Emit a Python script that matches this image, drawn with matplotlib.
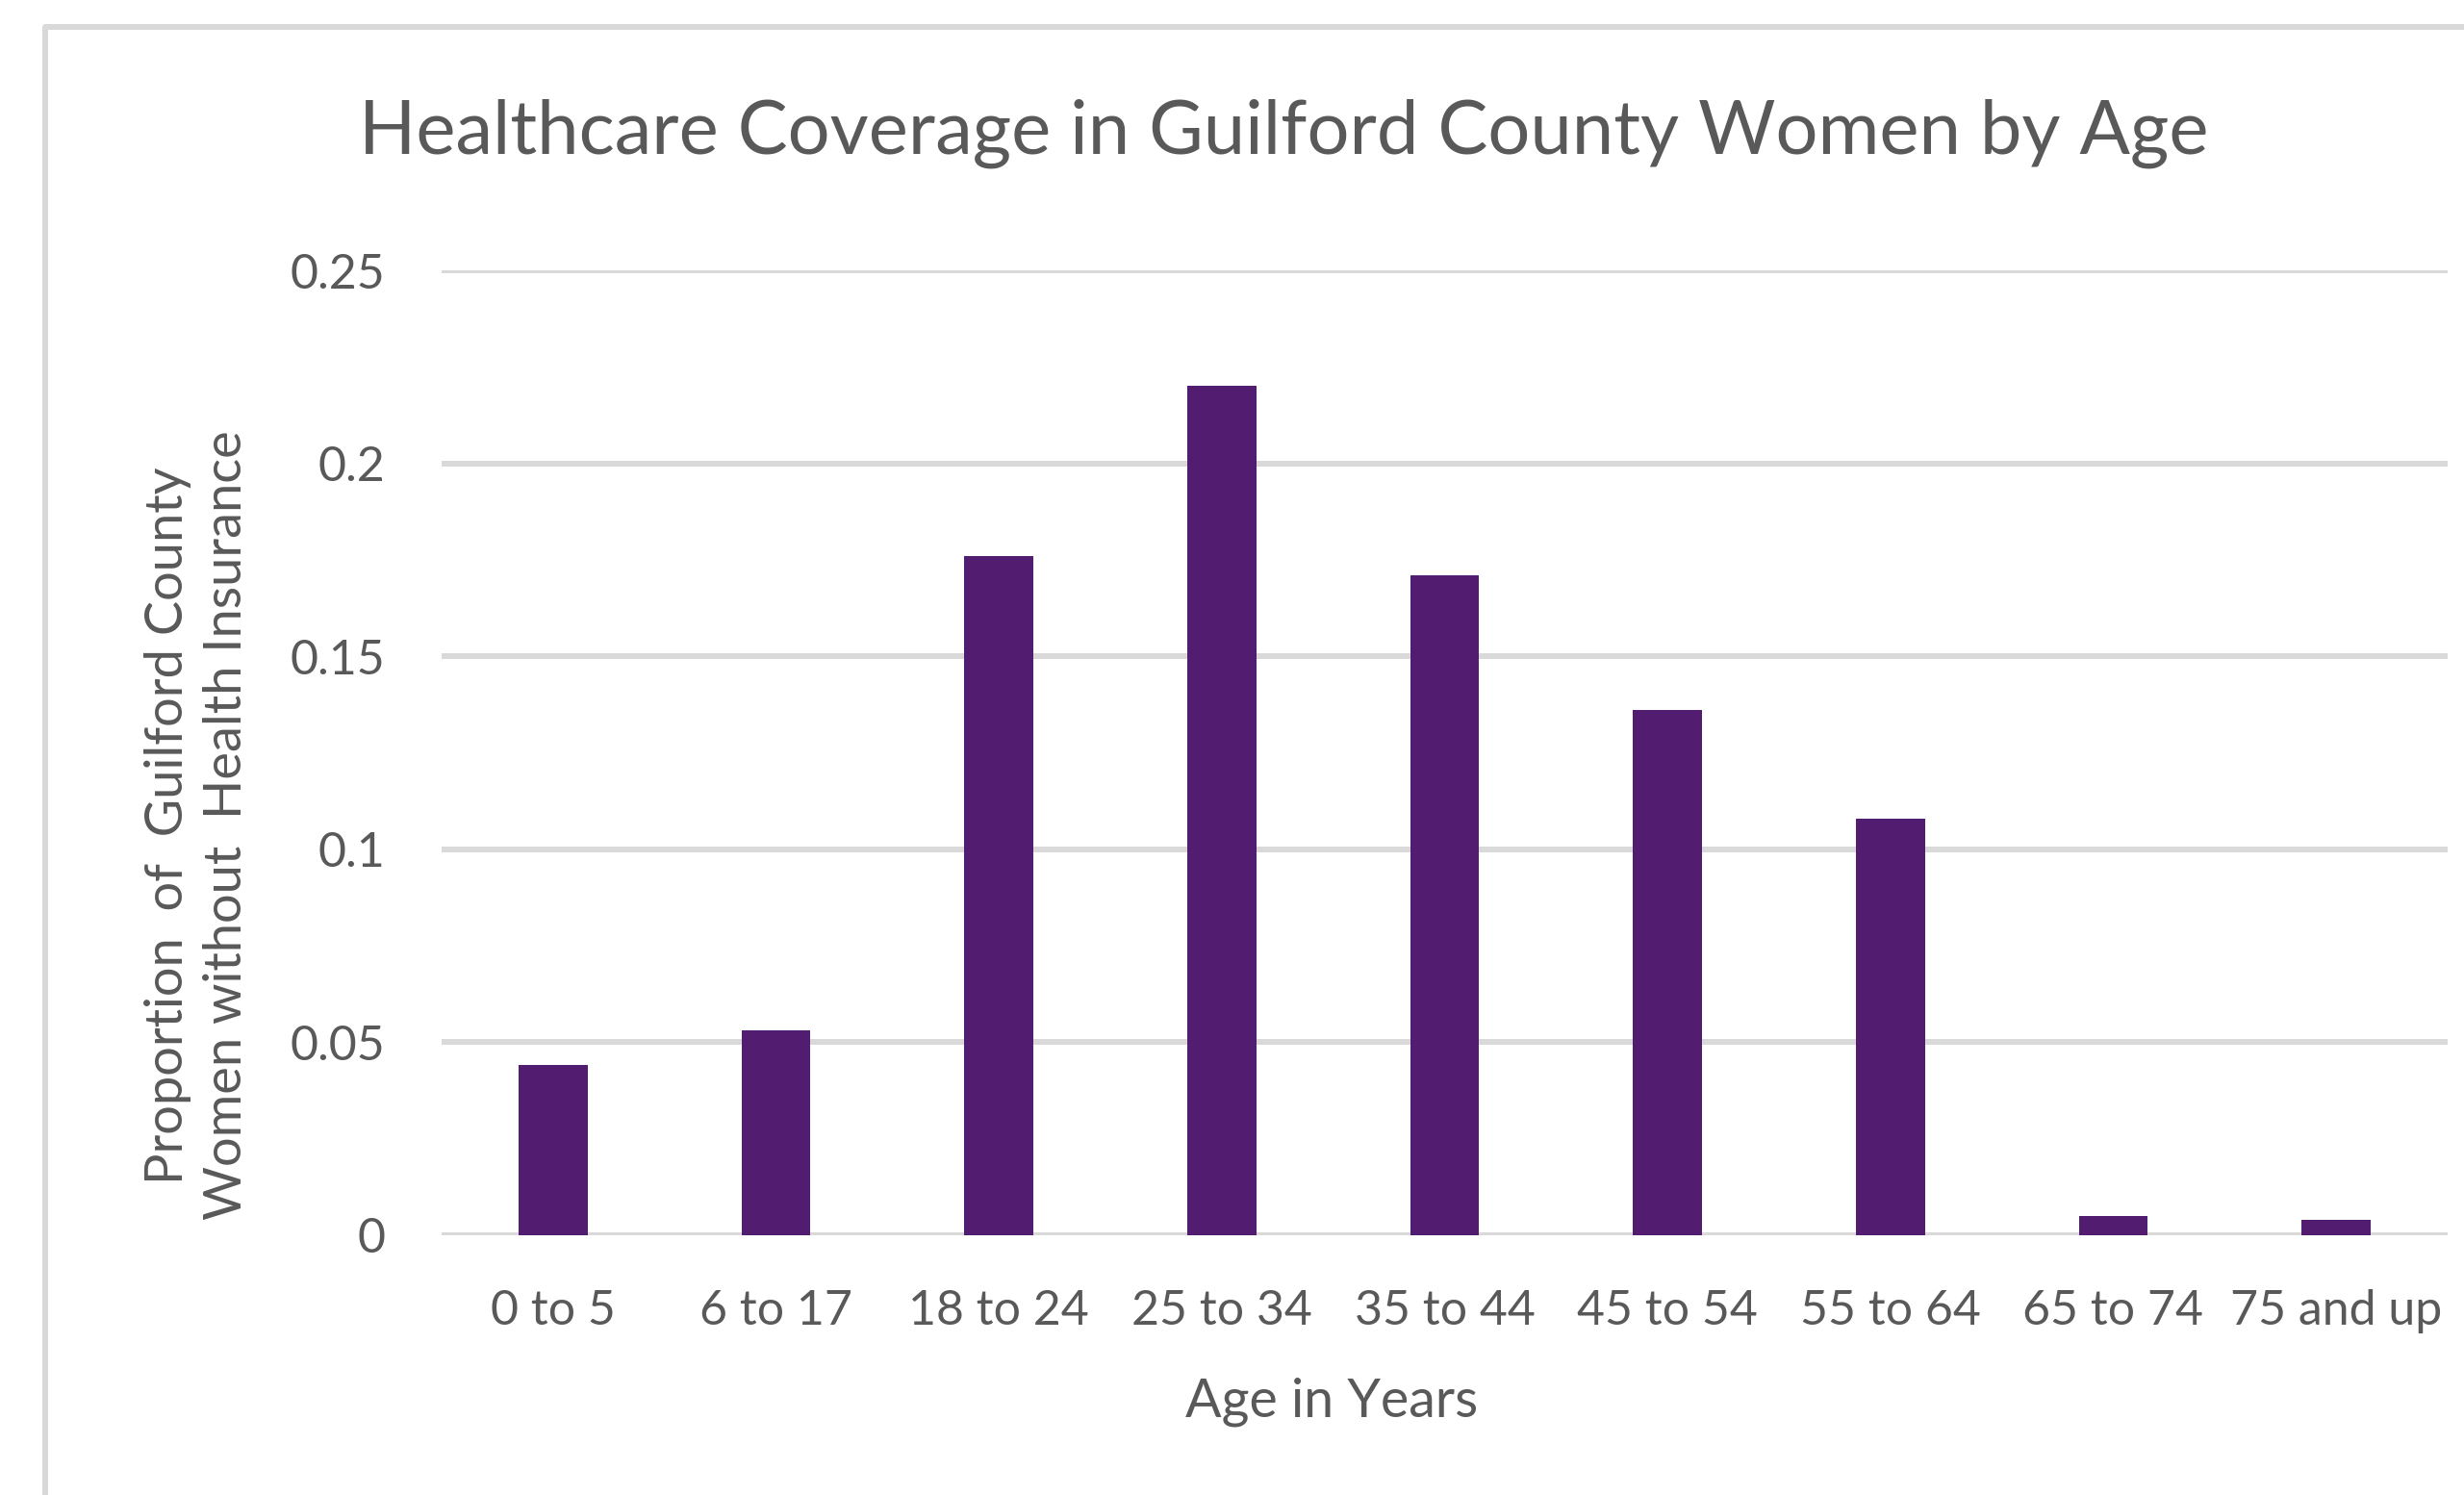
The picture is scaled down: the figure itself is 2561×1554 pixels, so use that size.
import matplotlib
matplotlib.use("Agg")
import matplotlib.pyplot as plt
from matplotlib.lines import Line2D
import numpy as np

# data
age_groups = ["0 to 5", "6 to 17", "18 to 24", "25 to 34", "35 to 44",
              "45 to 54", "55 to 64", "65 to 74", "75 and up"]
uninsured = [0.044, 0.053, 0.176, 0.220, 0.171, 0.136, 0.108, 0.005, 0.004]
y_ticks = [0, 0.05, 0.1, 0.15, 0.2, 0.25]
y_tick_labels = ["0", "0.05", "0.1", "0.15", "0.2", "0.25"]

TEXT = "#595959"
GRID = "#d9d9d9"
BAR = "#521d70"
plt.rcParams["font.family"] = ["Lato", "DejaVu Sans"]

W, H = 2561, 1554
fig = plt.figure(figsize=(W / 100, H / 100), dpi=100)
ax = fig.add_axes([459 / W, 1 - 1284 / H, (2544 - 459) / W, (1284 - 281) / H])

x = np.arange(len(age_groups))
ax.bar(x, uninsured, width=0.31, color=BAR, zorder=3)
ax.set_xlim(-0.5, len(age_groups) - 0.5)
ax.set_ylim(0, 0.25)
ax.set_yticks(y_ticks)
ax.set_yticklabels(y_tick_labels)
ax.set_xticks(x)
ax.set_xticklabels(age_groups)
ax.tick_params(length=0, pad=42, labelsize=36, labelcolor=TEXT)
ax.tick_params(axis="x", pad=40)
for t in y_ticks:
    ax.axhline(t, color=GRID, lw=4.3, zorder=1)
for s in ax.spines.values():
    s.set_visible(False)

# chart frame (cropped at the right and bottom)
fig.add_artist(Line2D([47 / W, 47 / W, 1.0], [0.0, 1 - 28 / H, 1 - 28 / H],
                      transform=fig.transFigure, color=GRID, lw=4.3))

fig.text(1334 / W, 1 - 139 / H, "Healthcare Coverage in Guilford County Women by Age",
         ha="center", va="center", fontsize=56, color=TEXT)
fig.text(205 / W, 1 - 858 / H,
         "Proportion  of  Guilford County\nWomen without  Health Insurance",
         rotation=90, ha="center", va="center", multialignment="center",
         fontsize=39, color=TEXT, linespacing=1.3)
fig.text(1384 / W, 1 - 1457 / H, "Age in Years", ha="center", va="center",
         fontsize=40, color=TEXT)

fig.savefig("out.png", dpi=100)
